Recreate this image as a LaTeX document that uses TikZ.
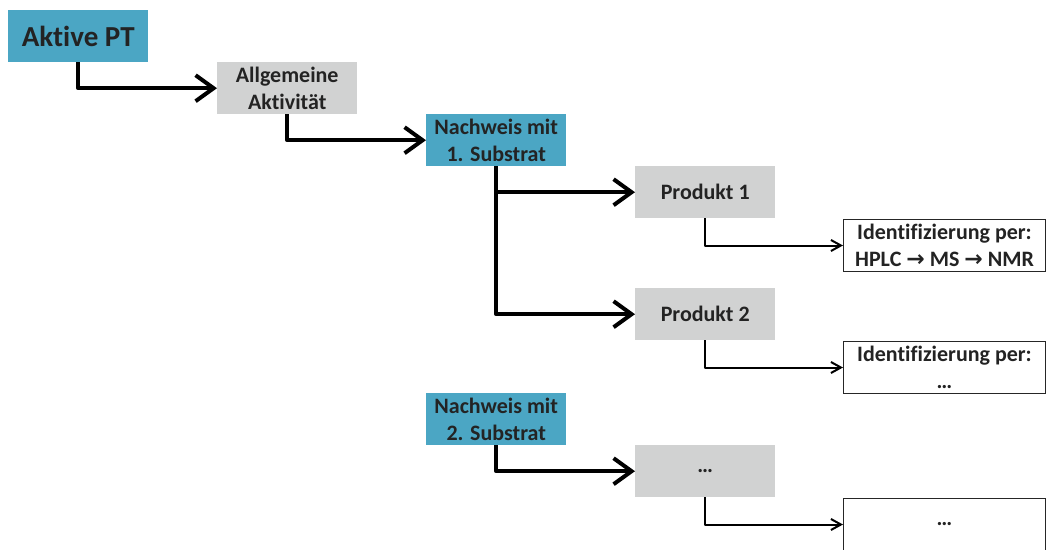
\documentclass[tikz,border=0pt]{standalone}
\usepackage{fontspec}
\setmainfont{Carlito}[Ligatures=NoCommon,RawFeature=-liga]
\newfontfamily\symfont{DejaVu Sans}
\usetikzlibrary{arrows.meta}
\definecolor{tealbox}{RGB}{75,166,196}
\definecolor{graybox}{RGB}{209,210,210}
\definecolor{txt}{RGB}{35,35,35}
\tikzset{
  box/.style={anchor=north west, minimum width=140pt, minimum height=52pt, inner sep=0pt,
    align=center, text=txt, font=\fontsize{22}{26.5}\selectfont\bfseries},
  tealnode/.style={box, fill=tealbox},
  graynode/.style={box, fill=graybox},
  idnode/.style={box, minimum width=202pt, fill=white, draw=black!85, line width=1pt},
  bigarrow/.style={line width=4pt, line join=round, -{Straight Barb[length=18pt,width=26pt]}},
  smallarrow/.style={line width=2pt, line join=round, -{Straight Barb[length=10pt,width=11pt]}}
}
\newcommand{\rarr}{{\symfont\bfseries →}}
\begin{document}
\begin{tikzpicture}[x=1pt,y=-1pt]
\useasboundingbox (0,0) rectangle (1046,549);
\fill[white] (0,0) rectangle (1046,549);
\node[tealnode, font=\fontsize{29}{32}\selectfont\bfseries] (pt) at (8,10) {Aktive PT};
\node[graynode] (allg) at (217,62) {Allgemeine\\Aktivität};
\node[tealnode] (nw1) at (426,114) {Nachweis mit\\1. Substrat};
\node[graynode] (p1) at (635,166) {Produkt 1};
\node[graynode] (p2) at (635,288) {Produkt 2};
\node[idnode] (id1) at (843,219) {Identifizierung per:\\HPLC \rarr{} MS \rarr{} NMR};
\node[idnode] (id2) at (843,341) {Identifizierung per:\\…};
\node[tealnode] (nw2) at (426,393) {Nachweis mit\\2. Substrat};
\node[graynode] (p3) at (635,445) {…};
\node[idnode] (id3) at (843,498) {…};

\draw[bigarrow] (pt.south) |- (allg.west);
\draw[bigarrow] (allg.south) |- (nw1.west);
\draw[bigarrow] (nw1.south) |- (p1.west);
\draw[bigarrow] (nw1.south) |- (p2.west);
\draw[bigarrow] (nw2.south) |- (p3.west);
\draw[smallarrow] (p1.south) |- (id1.west);
\draw[smallarrow] (p2.south) |- (id2.west);
\draw[smallarrow] (p3.south) |- (id3.west);
\end{tikzpicture}
\end{document}
